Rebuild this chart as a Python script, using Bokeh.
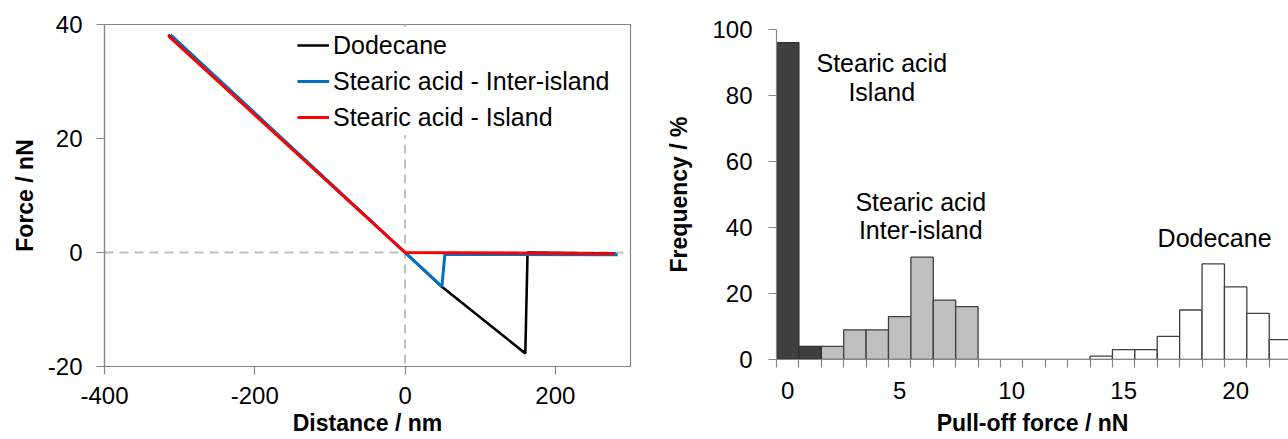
from bokeh.plotting import figure
from bokeh.layouts import row, column
from bokeh.models import (FixedTicker, Span, Legend, LegendItem, Label,
                          ColumnDataSource, Range1d, NumeralTickFormatter)
from bokeh.embed import file_html
from bokeh.resources import INLINE

# ---------------- data: force curves (left) ----------------
dodecane_x = [-315, 0, 49, 160, 163, 280]
dodecane_y = [38.2, 0.0, -6.0, -17.7, 0.0, -0.2]

inter_x = [-312, 0, 49, 53, 283]
inter_y = [38.2, 0.0, -6.0, -0.3, -0.4]

island_x = [-315, 0, 278]
island_y = [38.0, 0.0, -0.2]

legend_labels = ["Dodecane", "Stearic acid - Inter-island", "Stearic acid - Island"]

# ---------------- data: pull-off histogram (right) ----------------
island_bins = [0, 1]
island_freq = [96, 4]

inter_bins = [2, 3, 4, 5, 6, 7, 8]
inter_freq = [4, 9, 9, 13, 31, 18, 16]

dodecane_bins = [9, 10, 11, 12, 13, 14, 15, 16, 17, 18, 19, 20, 21, 22]
dodecane_freq = [0, 0, 0, 0, 0, 1, 3, 3, 7, 15, 29, 22, 14, 6]

x_tick_labels = [0, 5, 10, 15, 20]
y_ticks_left = [-20, 0, 20, 40]
x_ticks_left = [-400, -200, 0, 200]
y_ticks_right = [0, 20, 40, 60, 80, 100]

FONT = "Liberation Sans"
GRAY = "#868686"
TICK_FS = "24px"
TITLE_FS = "23px"

# ================= left figure =================
p1 = figure(width=640, height=439, x_range=Range1d(-400, 300), y_range=Range1d(-20, 40),
            output_backend="svg", toolbar_location=None,
            min_border_left=104, min_border_right=10, min_border_top=24, min_border_bottom=73)
p1.xgrid.visible = False
p1.ygrid.visible = False
p1.outline_line_color = GRAY
p1.outline_line_width = 1.2
p1.background_fill_color = "white"
p1.border_fill_color = "white"

p1.add_layout(Span(location=0, dimension="height", line_color="#bfbfbf", line_width=2,
                   line_dash="9 6", level="underlay"))
p1.add_layout(Span(location=0, dimension="width", line_color="#bfbfbf", line_width=2,
                   line_dash="9 6", level="underlay"))

r_dod = p1.line(dodecane_x, dodecane_y, line_color="black", line_width=2.6)
r_inter = p1.line(inter_x, inter_y, line_color="#0070C0", line_width=3)
r_island = p1.line(island_x, island_y, line_color="#FF0000", line_width=3)

leg = Legend(items=[LegendItem(label=legend_labels[0], renderers=[r_dod]),
                    LegendItem(label=legend_labels[1], renderers=[r_inter]),
                    LegendItem(label=legend_labels[2], renderers=[r_island])],
             location=(193, 231), padding=0, margin=0, spacing=0,
             glyph_width=32, glyph_height=36, label_height=36, label_standoff=4,
             label_text_font=FONT, label_text_font_size="25px", label_text_color="black",
             border_line_color=None, background_fill_color="white", background_fill_alpha=1.0)
p1.add_layout(leg)

for ax in (p1.xaxis[0], p1.yaxis[0]):
    ax.axis_line_color = GRAY
    ax.axis_line_width = 1.2
    ax.major_tick_line_color = GRAY
    ax.major_tick_line_width = 1.2
    ax.major_tick_out = 8
    ax.major_tick_in = 0
    ax.minor_tick_line_color = None
    ax.major_label_text_font = FONT
    ax.major_label_text_font_size = TICK_FS
    ax.major_label_text_color = "black"
    ax.axis_label_text_font = FONT
    ax.axis_label_text_font_size = TITLE_FS
    ax.axis_label_text_font_style = "bold"
    ax.axis_label_text_color = "black"
    ax.formatter = NumeralTickFormatter(format="0")

p1.xaxis.ticker = FixedTicker(ticks=x_ticks_left)
p1.yaxis.ticker = FixedTicker(ticks=y_ticks_left)
p1.xaxis.axis_label = "Distance / nm"
p1.yaxis.axis_label = "Force / nN"
p1.xaxis.major_label_standoff = 12
p1.xaxis.axis_label_standoff = 3
p1.yaxis.major_label_standoff = 14
p1.yaxis.axis_label_standoff = 7

# ================= right figure =================
p2 = figure(width=648, height=439, x_range=Range1d(-0.5, 22.36), y_range=Range1d(0, 100),
            output_backend="svg", toolbar_location=None,
            min_border_left=136, min_border_right=0, min_border_top=29, min_border_bottom=80)
p2.xgrid.visible = False
p2.ygrid.visible = False
p2.outline_line_color = None
p2.background_fill_color = "white"
p2.border_fill_color = "white"

def bar_source(bins, freq):
    return ColumnDataSource(dict(left=[b - 0.5 for b in bins], right=[b + 0.5 for b in bins],
                                 top=freq, bottom=[0] * len(freq)))

p2.quad(left="left", right="right", top="top", bottom="bottom",
        source=bar_source(dodecane_bins, dodecane_freq),
        fill_color="white", line_color="#404040", line_width=1.3)
p2.quad(left="left", right="right", top="top", bottom="bottom",
        source=bar_source(inter_bins, inter_freq),
        fill_color="#bfbfbf", line_color="#404040", line_width=1.3)
p2.quad(left="left", right="right", top="top", bottom="bottom",
        source=bar_source(island_bins, island_freq),
        fill_color="#404040", line_color="#303030", line_width=1.3)

for ax in (p2.xaxis[0], p2.yaxis[0]):
    ax.axis_line_color = GRAY
    ax.axis_line_width = 1.2
    ax.major_tick_line_color = GRAY
    ax.major_tick_line_width = 1.2
    ax.major_tick_out = 8
    ax.major_tick_in = 0
    ax.minor_tick_line_color = None
    ax.major_label_text_font = FONT
    ax.major_label_text_font_size = TICK_FS
    ax.major_label_text_color = "black"
    ax.axis_label_text_font = FONT
    ax.axis_label_text_font_size = TITLE_FS
    ax.axis_label_text_font_style = "bold"
    ax.axis_label_text_color = "black"

n_bins = len(island_bins) + len(inter_bins) + len(dodecane_bins)
p2.xaxis.ticker = FixedTicker(ticks=x_tick_labels,
                              minor_ticks=[i - 0.5 for i in range(n_bins + 1)])
p2.xaxis.major_tick_line_color = None
p2.xaxis.minor_tick_line_color = GRAY
p2.xaxis.minor_tick_line_width = 1.2
p2.xaxis.minor_tick_out = 8
p2.xaxis.minor_tick_in = 0
p2.yaxis.ticker = FixedTicker(ticks=y_ticks_right)
p2.xaxis.axis_label = "Pull-off force / nN"
p2.yaxis.axis_label = "Frequency / %"
p2.xaxis.major_label_standoff = 14
p2.xaxis.axis_label_standoff = 8
p2.yaxis.major_label_standoff = 16
p2.yaxis.axis_label_standoff = 17

def note(x, y, text):
    p2.add_layout(Label(x=x, y=y, text=text, text_align="center", text_baseline="middle",
                        text_font=FONT, text_font_size="25px", text_color="black"))

note(4.2, 89.9, "Stearic acid")
note(4.2, 81.0, "Island")
note(5.94, 47.7, "Stearic acid")
note(5.94, 39.1, "Inter-island")
note(19.06, 36.7, "Dodecane")

layout = row(column(p1), column(p2), spacing=0)
open("out.html", "w").write(file_html(layout, INLINE))
